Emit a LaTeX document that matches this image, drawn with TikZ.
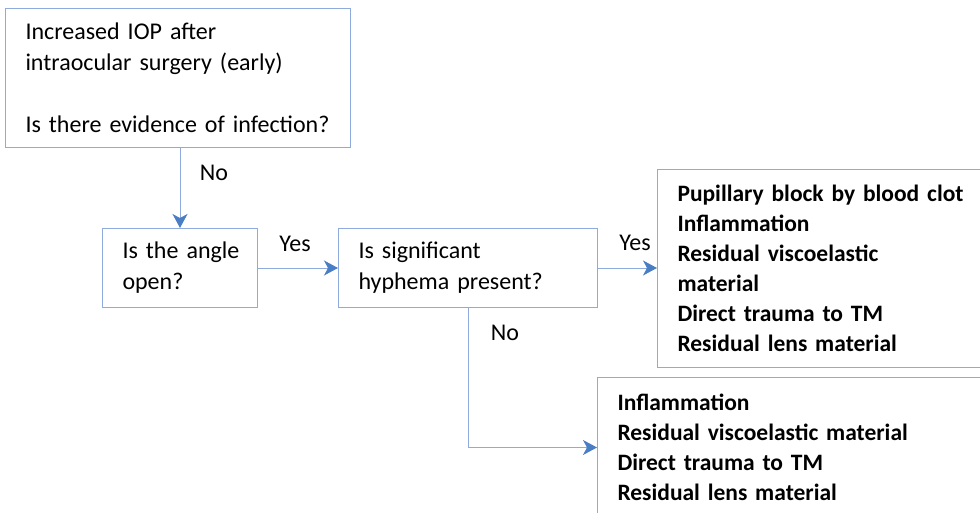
\documentclass[tikz,border=0pt]{standalone}
\usepackage{fontspec}
\setmainfont{Carlito}
\usetikzlibrary{arrows.meta}
\definecolor{boxline}{HTML}{8FAADC}
\definecolor{tipblue}{HTML}{4A7EC4}
\tikzset{
  box/.style={draw=boxline, line width=1pt, rectangle, anchor=north west, inner xsep=20pt, inner ysep=0pt, align=left,
    font=\fontsize{24}{31}\selectfont, text=black},
  bbox/.style={box, font=\fontsize{23.5}{30}\selectfont\bfseries},
  conn/.style={draw=boxline, line width=1pt, -{Stealth[length=14pt,width=15pt,inset=4pt,fill=tipblue,color=tipblue]}},
  lbl/.style={font=\fontsize{24}{28}\selectfont, text=black, inner sep=0pt}
}
\begin{document}
\begin{tikzpicture}[x=1pt,y=-1pt]
\useasboundingbox (0,0) rectangle (980,513);
\clip (0,0) rectangle (980,513);
\node[box, minimum width=345pt, minimum height=139pt, text width=305pt] (top) at (5,8)
  {Increased IOP after\\intraocular surgery (early)\\[31pt]Is there evidence of infection?};
\node[box, minimum width=155pt, minimum height=79pt, text width=115pt] (angle) at (102,228)
  {\mbox{Is the angle}\\open?};
\node[box, minimum width=259pt, minimum height=79pt, text width=219pt] (hyph) at (338,228)
  {Is significant\\hyphema present?};
\node[bbox, minimum width=353pt, minimum height=198pt, text width=313pt] (yesbox) at (657,169)
  {Pupillary block by blood clot\\Inflammation\\Residual viscoelastic\\material\\Direct trauma to TM\\Residual lens material};
\node[bbox, minimum width=413pt, minimum height=140pt, text width=373pt, inner xsep=19pt] (nobox) at (597,377)
  {Inflammation\\Residual viscoelastic material\\Direct trauma to TM\\Residual lens material};
\draw[conn] (angle.north |- top.south) -- (angle.north);
\draw[conn] (angle.east) -- (hyph.west);
\draw[conn] (hyph.east) -- (hyph.east -| yesbox.west);
\draw[conn] (hyph.south) |- (nobox.west);
\node[lbl] (l1) at (214,173) {No};
\node[lbl] (l2) at (295,244) {Yes};
\node[lbl] (l3) at (635,243) {Yes};
\node[lbl] (l4) at (505,333) {No};
\end{tikzpicture}
\end{document}
